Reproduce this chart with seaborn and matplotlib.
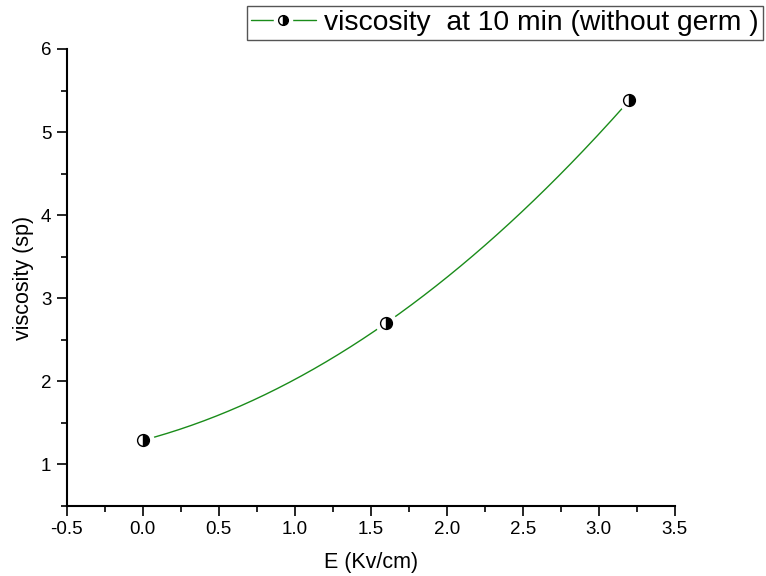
import numpy as np
import pandas as pd
import matplotlib
matplotlib.use("Agg")
import matplotlib.pyplot as plt
from matplotlib.lines import Line2D
from matplotlib.legend_handler import HandlerTuple
from matplotlib.ticker import MultipleLocator
import seaborn as sns

# data
field = [0.0, 1.6, 3.2]          # E (Kv/cm)
viscosity = [1.29, 2.70, 5.38]   # viscosity (sp)
series_label = "viscosity  at 10 min (without germ )"

sns.set_theme(style="ticks")
plt.rcParams["font.family"] = ["Liberation Sans", "DejaVu Sans"]
plt.rcParams["text.color"] = "black"
plt.rcParams["axes.labelcolor"] = "black"

green = "#1a8c1a"

# smooth connecting curve through the three points (Origin-style spline)
coef = np.polyfit(field, viscosity, 2)
xs = np.linspace(min(field), max(field), 200)
curve = pd.DataFrame({"E": xs, "v": np.polyval(coef, xs)})

fig = plt.figure(figsize=(7.66, 5.76), dpi=100)
ax = fig.add_axes([0.087, 0.1215, 0.794, 0.7935])

sns.lineplot(data=curve, x="E", y="v", ax=ax, color=green, linewidth=1.0)

# white halo so the line stops short of each marker
ax.plot(field, viscosity, linestyle="none", marker="o", markersize=15,
        markerfacecolor="white", markeredgecolor="white", zorder=3)
ax.plot(field, viscosity, linestyle="none", marker="o", markersize=8.5,
        fillstyle="right", markerfacecolor="black", markerfacecoloralt="white",
        markeredgecolor="black", markeredgewidth=1.0, zorder=4)

ax.set_xlim(-0.5, 3.5)
ax.set_ylim(0.5, 6)
ax.xaxis.set_major_locator(MultipleLocator(0.5))
ax.xaxis.set_minor_locator(MultipleLocator(0.25))
ax.yaxis.set_major_locator(MultipleLocator(1))
ax.yaxis.set_minor_locator(MultipleLocator(0.5))
ax.xaxis.set_major_formatter(plt.FormatStrFormatter("%.1f"))
ax.yaxis.set_major_formatter(plt.FormatStrFormatter("%d"))

sns.despine(ax=ax)
for side in ["left", "bottom"]:
    ax.spines[side].set_linewidth(1.5)
    ax.spines[side].set_color("black")

ax.tick_params(which="major", direction="out", length=7, width=1.2,
               labelsize=13.5, colors="black", pad=4)
ax.tick_params(which="minor", direction="out", length=4, width=1.2, colors="black")

ax.set_xlabel("E (Kv/cm)", fontsize=15.5, labelpad=10)
ax.set_ylabel("viscosity (sp)", fontsize=15.5, labelpad=5)

# legend handle: line with a gap around the half-filled marker
h_line = Line2D([0], [0], color=green, linewidth=1.0)
h_halo = Line2D([0], [0], linestyle="none", marker="o", markersize=13,
                markerfacecolor="white", markeredgecolor="white")
h_mark = Line2D([0], [0], linestyle="none", marker="o", markersize=7,
                fillstyle="right", markerfacecolor="black",
                markerfacecoloralt="white", markeredgecolor="black")
fig.legend([(h_line, h_halo, h_mark)], [series_label], loc="upper left",
           handler_map={tuple: HandlerTuple(ndivide=1)},
           bbox_to_anchor=(0.322, 0.99), fontsize=20.3, frameon=True,
           fancybox=False, edgecolor="#555555", framealpha=1,
           borderpad=0.15, handlelength=2.3, handletextpad=0.3,
           borderaxespad=0, labelcolor="black")

fig.savefig("out.png", dpi=100)
